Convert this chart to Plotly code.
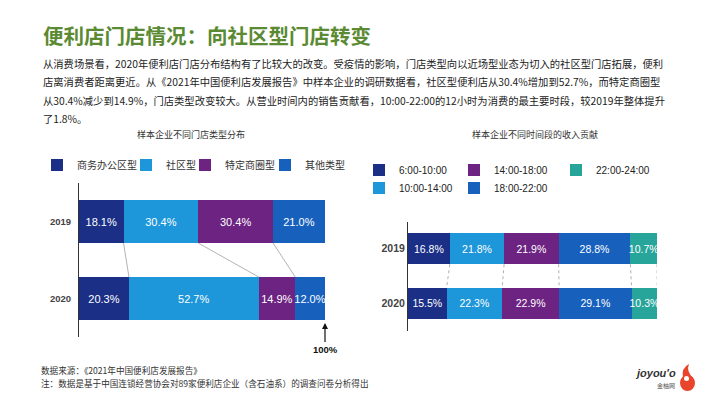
import plotly.graph_objects as go
from itertools import accumulate

W, H = 710, 399
OFF = 8  # the page body adds an 8px margin; positions below are given in window pixels


def py(y):
    return 1 - (y - OFF) / H


def pxx(x):
    return (x - OFF) / W


# ---------------- data ----------------
years = ['2019', '2020']
store_types = ['商务办公区型', '社区型', '特定商圈型', '其他类型']
store_2019 = [18.1, 30.4, 30.4, 21.0]
store_2020 = [20.3, 52.7, 14.9, 12.0]

time_slots = ['6:00-10:00', '10:00-14:00', '14:00-18:00', '18:00-22:00', '22:00-24:00']
rev_2019 = [16.8, 21.8, 21.9, 28.8, 10.7]
rev_2020 = [15.5, 22.3, 22.9, 29.1, 10.3]

title_text = '便利店门店情况：向社区型门店转变'
para_lines = [
    '从消费场景看，2020年便利店门店分布结构有了比较大的改变。受疫情的影响，门店类型向以近场型业态为切入的社区型门店拓展，便利',
    '店离消费者距离更近。从《2021年中国便利店发展报告》中样本企业的调研数据看，社区型便利店从30.4%增加到52.7%，而特定商圈型',
    '从30.4%减少到14.9%，门店类型改变较大。从营业时间内的销售贡献看，10:00-22:00的12小时为消费的最主要时段，较2019年整体提升',
    '了1.8%。',
]
left_title = '样本企业不同门店类型分布'
right_title = '样本企业不同时间段的收入贡献'
source_lines = [
    '数据来源：《2021年中国便利店发展报告》',
    '注：数据是基于中国连锁经营协会对89家便利店企业（含石油系）的调查问卷分析得出',
]

# ---------------- styles ----------------
NAVY = '#1b2f86'
LIGHT = '#1d96da'
PURPLE = '#6c2381'
MEDIUM = '#1761bd'
TEAL = '#27a59b'
store_colors = [NAVY, LIGHT, PURPLE, MEDIUM]
time_colors = [NAVY, LIGHT, PURPLE, MEDIUM, TEAL]

LAT = 'Liberation Sans, Noto Sans CJK SC, sans-serif'
CJK = 'Noto Sans CJK SC, Liberation Sans, sans-serif'

ypos = list(range(len(years)))
LW = 0.56   # left bar thickness
RW = 0.57   # right bar thickness

fig = go.Figure()

# left chart bars
left_legendwidth = [44, 14, 35, None]
for i, name in enumerate(store_types):
    vals = [store_2019[i], store_2020[i]]
    kw = {}
    if left_legendwidth[i]:
        kw['legendwidth'] = left_legendwidth[i]
    fig.add_trace(go.Bar(
        name=name, x=vals, y=ypos, orientation='h', width=LW,
        marker=dict(color=store_colors[i], line=dict(width=0)),
        text=[f'{v:.1f}%' for v in vals], textposition='inside',
        insidetextanchor='middle', textangle=0, constraintext='none',
        textfont=dict(color='white', size=11, family=LAT),
        xaxis='x', yaxis='y', legend='legend', hoverinfo='skip', **kw))

# right chart bars
right_legend = ['legend2', 'legend3', 'legend2', 'legend3', 'legend2']
right_legendwidth = [50, 50, 57, None, None]
for i, name in enumerate(time_slots):
    vals = [rev_2019[i], rev_2020[i]]
    kw = {}
    if right_legendwidth[i]:
        kw['legendwidth'] = right_legendwidth[i]
    fig.add_trace(go.Bar(
        name=name, x=vals, y=ypos, orientation='h', width=RW,
        marker=dict(color=time_colors[i], line=dict(width=0)),
        text=[f'{v:.1f}%' for v in vals], textposition='inside',
        insidetextanchor='middle', textangle=0, constraintext='none',
        textfont=dict(color='white', size=10.5, family=LAT),
        xaxis='x2', yaxis='y2', legend=right_legend[i], hoverinfo='skip', **kw))

# connector lines (left: solid, between segment boundaries)
cum19 = list(accumulate(store_2019))
cum20 = list(accumulate(store_2020))
for a, b in list(zip(cum19, cum20))[:-1]:
    fig.add_trace(go.Scatter(
        x=[a, b], y=[ypos[0] + LW / 2, ypos[1] - LW / 2], mode='lines',
        line=dict(color='#a0a0a0', width=0.8), showlegend=False,
        hoverinfo='skip', xaxis='x', yaxis='y'))

# connector lines (right: dotted, including the end)
rc19 = list(accumulate(rev_2019))
rc20 = list(accumulate(rev_2020))
for a, b in zip(rc19, rc20):
    fig.add_trace(go.Scatter(
        x=[a, b], y=[ypos[0] + RW / 2, ypos[1] - RW / 2], mode='lines',
        line=dict(color='#9a9a9a', width=0.8, dash='dot'), showlegend=False,
        hoverinfo='skip', xaxis='x2', yaxis='y2'))

axis_common = dict(showgrid=False, zeroline=False)

annotations = []
annotations.append(dict(
    text=f'<b>{title_text}</b>', x=pxx(41), y=py(35), xref='paper', yref='paper',
    xanchor='left', yanchor='middle', showarrow=False,
    font=dict(size=20.5, color='#5a8a32', family=CJK)))
for line, yy in zip(para_lines, [63, 81.5, 100, 118.5]):
    annotations.append(dict(
        text=line, x=pxx(41), y=py(yy), xref='paper', yref='paper',
        xanchor='left', yanchor='middle', showarrow=False,
        font=dict(size=10.3, color='#222', family=CJK)))
annotations.append(dict(
    text=left_title, x=pxx(191), y=py(134), xref='paper', yref='paper',
    xanchor='center', yanchor='middle', showarrow=False,
    font=dict(size=9, color='#333', family=CJK)))
annotations.append(dict(
    text=right_title, x=pxx(535), y=py(134), xref='paper', yref='paper',
    xanchor='center', yanchor='middle', showarrow=False,
    font=dict(size=9, color='#333', family=CJK)))
annotations.append(dict(
    text='<b>100%</b>', x=100, xref='x', y=py(323), yref='paper',
    showarrow=True, ax=0, ay=26, arrowhead=2, arrowsize=1, arrowwidth=1.2,
    arrowcolor='#111', font=dict(size=9.5, color='#111', family=LAT)))
for line, yy in zip(source_lines, [370, 382.5]):
    annotations.append(dict(
        text=line, x=pxx(40), y=py(yy), xref='paper', yref='paper',
        xanchor='left', yanchor='middle', showarrow=False, borderpad=0,
        font=dict(size=8.6, color='#333', family=CJK)))
# logo
annotations.append(dict(
    text='<i><b>joyou\'o</b></i>', x=pxx(678), y=py(373), xref='paper', yref='paper',
    xanchor='right', yanchor='middle', showarrow=False,
    font=dict(size=11, color='#333', family=LAT)))
annotations.append(dict(
    text='金柚网', x=pxx(677), y=py(385), xref='paper', yref='paper',
    xanchor='right', yanchor='middle', showarrow=False,
    font=dict(size=6, color='#555', family=CJK)))

shapes = [
    dict(type='circle', xref='paper', yref='paper',
         x0=pxx(680), x1=pxx(695), y0=py(391), y1=py(375),
         fillcolor='#e8452c', line=dict(width=0)),
    dict(type='path', xref='paper', yref='paper',
         path=f'M {pxx(683)} {py(378)} Q {pxx(681)} {py(368)} {pxx(689)} {py(364)} '
              f'Q {pxx(686)} {py(371)} {pxx(693)} {py(378)} Z',
         fillcolor='#e8452c', line=dict(width=0)),
    dict(type='circle', xref='paper', yref='paper',
         x0=pxx(684), x1=pxx(689), y0=py(381), y1=py(376),
         fillcolor='white', line=dict(width=0)),
]

legend_common = dict(orientation='h', xanchor='left', yanchor='middle',
                     traceorder='normal',
                     bgcolor='rgba(0,0,0,0)', borderwidth=0,
                     itemclick=False, itemdoubleclick=False)

fig.update_layout(
    width=W, height=H,
    margin=dict(l=0, r=0, t=0, b=0),
    paper_bgcolor='white', plot_bgcolor='white',
    barmode='stack',
    font=dict(family=CJK, color='#333'),
    xaxis=dict(domain=[pxx(79), pxx(325)], range=[0, 100], visible=False, **axis_common),
    yaxis=dict(domain=[py(337), py(183)], range=[1.5, -0.5], tickvals=ypos, ticktext=years,
               showline=True, linecolor='#333', linewidth=1, ticks='', ticklabelstandoff=5,
               tickfont=dict(size=9.5, color='#444', family=LAT, weight='bold'),
               anchor='x', **axis_common),
    xaxis2=dict(domain=[pxx(408), pxx(657)], range=[0, 100], visible=False,
                anchor='y2', **axis_common),
    yaxis2=dict(domain=[py(330.5), py(221.5)], range=[1.5, -0.5], tickvals=ypos, ticktext=years,
                showline=True, linecolor='#333', linewidth=1, ticks='', ticklabelstandoff=0,
                tickfont=dict(size=10.5, color='#444', family=LAT, weight='bold'),
                anchor='x2', **axis_common),
    legend=dict(x=pxx(37), y=py(165), font=dict(size=10, color='#333', family=CJK), **legend_common),
    legend2=dict(x=pxx(359), y=py(170), font=dict(size=10, color='#222', family=LAT), **legend_common),
    legend3=dict(x=pxx(359), y=py(188), font=dict(size=10, color='#222', family=LAT), **legend_common),
    annotations=annotations,
    shapes=shapes,
)

fig.write_html('out.html')
